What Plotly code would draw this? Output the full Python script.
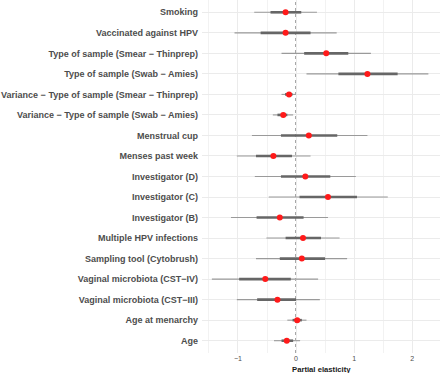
import plotly.graph_objects as go

labels = [
    "Smoking",
    "Vaccinated against HPV",
    "Type of sample (Smear − Thinprep)",
    "Type of sample (Swab − Amies)",
    "Variance − Type of sample (Smear − Thinprep)",
    "Variance − Type of sample (Swab − Amies)",
    "Menstrual cup",
    "Menses past week",
    "Investigator (D)",
    "Investigator (C)",
    "Investigator (B)",
    "Multiple HPV infections",
    "Sampling tool (Cytobrush)",
    "Vaginal microbiota (CST−IV)",
    "Vaginal microbiota (CST−III)",
    "Age at menarchy",
    "Age",
]
point = [-0.18, -0.18, 0.52, 1.23, -0.12, -0.22, 0.22, -0.39, 0.16, 0.55, -0.28, 0.12, 0.10, -0.53, -0.32, 0.02, -0.16]
outer_lo = [-0.72, -1.06, -0.25, 0.18, -0.25, -0.40, -0.76, -1.02, -0.71, -0.47, -1.12, -0.51, -0.69, -1.45, -1.02, -0.15, -0.38]
outer_hi = [0.36, 0.70, 1.29, 2.28, 0.00, -0.05, 1.23, 0.25, 1.03, 1.58, 0.55, 0.75, 0.88, 0.38, 0.41, 0.18, 0.07]
inner_lo = [-0.44, -0.61, 0.14, 0.73, -0.19, -0.32, -0.26, -0.69, -0.26, 0.06, -0.68, -0.18, -0.28, -0.98, -0.67, -0.06, -0.25]
inner_hi = [0.09, 0.25, 0.90, 1.75, -0.06, -0.15, 0.71, -0.07, 0.59, 1.05, 0.13, 0.43, 0.50, -0.09, 0.00, 0.10, -0.05]
x_ticks = [-1, 0, 1, 2]
x_ticktext = ["−1", "0", "1", "2"]

n = len(labels)
ypos = [n - 1 - i for i in range(n)]  # Smoking on top


def segs(lo, hi):
    xs, ys = [], []
    for a, b, y in zip(lo, hi, ypos):
        xs += [a, b, None]
        ys += [y, y, None]
    return xs, ys


fig = go.Figure()
ox, oy = segs(outer_lo, outer_hi)
fig.add_trace(go.Scatter(x=ox, y=oy, mode="lines", line=dict(color="#9a9a9a", width=1.1),
                         hoverinfo="skip", showlegend=False))
ix, iy = segs(inner_lo, inner_hi)
fig.add_trace(go.Scatter(x=ix, y=iy, mode="lines", line=dict(color="#666666", width=2.6),
                         hoverinfo="skip", showlegend=False))
fig.add_trace(go.Scatter(x=point, y=ypos, mode="markers",
                         marker=dict(color="#ff1a1a", size=6, line=dict(width=0)),
                         showlegend=False))

fig.add_shape(type="line", x0=0, x1=0, y0=0, y1=1, yref="paper", xref="x",
              line=dict(color="#555555", width=1.1, dash="dot"), layer="below")

fig.update_layout(
    width=440, height=373,
    margin=dict(l=202, r=0, t=0, b=20),
    plot_bgcolor="white", paper_bgcolor="white",
    font=dict(family="Liberation Sans, Arial, sans-serif"),
    xaxis=dict(range=[-1.62, 2.48], tickvals=x_ticks, ticktext=x_ticktext,
               showgrid=True, gridcolor="#ebebeb", gridwidth=1,
               minor=dict(dtick=0.5, tick0=0.5, showgrid=True, gridcolor="#f2f2f2", gridwidth=0.8),
               zeroline=False, showline=False, ticks="",
               tickfont=dict(size=7, color="#4d4d4d"), ticklabelstandoff=0),
    yaxis=dict(range=[-0.6, n - 0.4], tickvals=ypos, ticktext=labels,
               showgrid=True, gridcolor="#ebebeb", gridwidth=1,
               zeroline=False, showline=False, ticks="",
               tickfont=dict(size=9, color="#4d4d4d", weight="bold"),
               ticklabelstandoff=3, automargin=False),
    annotations=[dict(text="<b>Partial elasticity</b>", x=0.5, y=0, xref="paper", yref="paper",
                      xanchor="center", yanchor="top", yshift=-10, showarrow=False,
                      font=dict(size=7.7, color="#1a1a1a"))],
)

fig.write_html("out.html", config={"displayModeBar": False},
               post_script="document.body.style.margin='0';document.body.style.overflow='hidden';")
